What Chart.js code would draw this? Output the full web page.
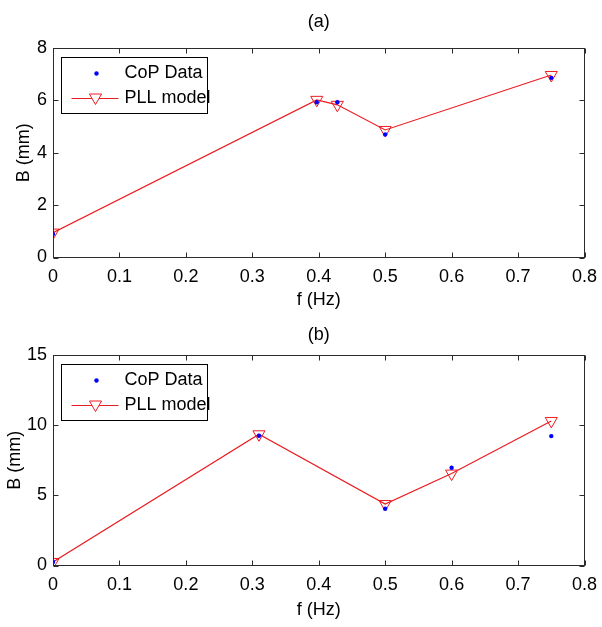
<!DOCTYPE html>
<html><head><meta charset="utf-8">
<script src="https://cdn.jsdelivr.net/npm/chart.js@4.4.1/dist/chart.umd.min.js"></script>
<style>
html,body{margin:0;padding:0;background:#fff;}
canvas{position:absolute;left:0;}
</style>
</head><body>
<canvas id="chartA" width="602" height="312" style="top:0px"></canvas>
<canvas id="chartB" width="602" height="315" style="top:312px"></canvas>
<script>
// ---- data ----
const xTickLabels = ['0','0.1','0.2','0.3','0.4','0.5','0.6','0.7','0.8'];

const freqA = [0, 0.397, 0.428, 0.5, 0.75];
const copA  = [0.90, 5.93, 5.93, 4.70, 6.86];
const pllA  = [0.95, 6.02, 5.83, 4.87, 6.97];
const yTicksA = ['0','2','4','6','8'];

const freqB = [0, 0.31, 0.5, 0.6, 0.75];
const copB  = [0.25, 9.25, 4.05, 6.97, 9.22];
const pllB  = [0.25, 9.35, 4.38, 6.55, 10.30];
const yTicksB = ['0','5','10','15'];

const seriesNames = ['CoP Data', 'PLL model'];
const panelTitles = ['(a)', '(b)'];
const xTitle = 'f (Hz)';
const yTitle = 'B (mm)';

// ---- styling ----
const FAMILY = "'Liberation Sans', Arial, Helvetica, sans-serif";
const FS = 18;
const RED = 'rgb(235,28,32)';
const BLUE = '#0000ff';
const AXIS = '#2b2b2b';

const frameTicks = {
  id: 'frameTicks',
  afterDraw(chart) {
    const {ctx, chartArea: a, scales: {x, y}} = chart;
    ctx.save();
    ctx.strokeStyle = AXIS;
    ctx.lineWidth = 1;
    const L = Math.round(a.left) + 0.5, R = Math.round(a.right) - 0.5;
    const T = Math.round(a.top) + 0.5, B = Math.round(a.bottom) - 0.5;
    ctx.strokeRect(L, T, R - L, B - T);
    const len = 5;
    ctx.beginPath();
    x.ticks.forEach(t => {
      const px = Math.round(x.getPixelForValue(t.value)) + 0.5;
      ctx.moveTo(px, B); ctx.lineTo(px, B - len);
      ctx.moveTo(px, T); ctx.lineTo(px, T + len);
    });
    y.ticks.forEach(t => {
      const py = Math.round(y.getPixelForValue(t.value)) + 0.5;
      ctx.moveTo(L, py); ctx.lineTo(L + len, py);
      ctx.moveTo(R, py); ctx.lineTo(R - len, py);
    });
    ctx.stroke();
    ctx.restore();
  }
};

const panelTitle = {
  id: 'panelTitle',
  afterDraw(chart, args, opts) {
    const {ctx, chartArea: a} = chart;
    ctx.save();
    ctx.fillStyle = '#000';
    ctx.font = '18px ' + FAMILY;
    ctx.textAlign = 'center';
    ctx.textBaseline = 'middle';
    ctx.fillText(opts.text, (a.left + a.right) / 2, opts.y);
    ctx.restore();
  }
};

const boxLegend = {
  id: 'boxLegend',
  afterDraw(chart) {
    const {ctx, chartArea: a} = chart;
    const L = Math.round(a.left) + 8.5, T = Math.round(a.top) + 9.5, W = 146, H = 56;
    ctx.save();
    ctx.fillStyle = '#fff';
    ctx.fillRect(L, T, W, H);
    ctx.strokeStyle = '#000';
    ctx.lineWidth = 1;
    ctx.strokeRect(L, T, W, H);
    const r1 = T + 16, r2 = T + 41;
    ctx.fillStyle = BLUE;
    ctx.beginPath(); ctx.arc(L + 35, r1, 2.2, 0, Math.PI * 2); ctx.fill();
    ctx.strokeStyle = RED; ctx.lineWidth = 1.2;
    ctx.beginPath(); ctx.moveTo(L + 10, r2); ctx.lineTo(L + 57, r2); ctx.stroke();
    ctx.lineWidth = 1;
    ctx.fillStyle = '#fff';
    Chart.helpers.drawPoint(ctx, {pointStyle: 'triangle', rotation: 180, radius: 7, borderWidth: 1}, L + 34, r2 - 1);
    ctx.fillStyle = '#000';
    ctx.font = FS + 'px ' + FAMILY;
    ctx.textBaseline = 'middle';
    ctx.textAlign = 'left';
    ctx.fillText(seriesNames[0], L + 63, r1);
    ctx.fillText(seriesNames[1], L + 63, r2);
    ctx.restore();
  }
};

function makeChart(id, title, freq, cop, pll, yMax, yStep, yTickLabels, cfg) {
  const canvas = document.getElementById(id);
  const H = canvas.height;
  return new Chart(canvas, {
    type: 'scatter',
    data: {
      datasets: [
        {
          label: seriesNames[0],
          data: freq.map((f, i) => ({x: f, y: cop[i]})),
          showLine: false,
          pointStyle: 'circle',
          pointRadius: 2.2,
          pointBackgroundColor: BLUE,
          pointBorderColor: BLUE,
          pointBorderWidth: 0,
          order: 1
        },
        {
          label: seriesNames[1],
          data: freq.map((f, i) => ({x: f, y: pll[i]})),
          showLine: true,
          borderColor: RED,
          borderWidth: 1.2,
          pointStyle: 'triangle',
          rotation: 180,
          pointRadius: 7,
          pointBackgroundColor: 'rgba(0,0,0,0)',
          pointBorderColor: RED,
          pointBorderWidth: 1,
          order: 2
        }
      ]
    },
    options: {
      responsive: false,
      animation: false,
      devicePixelRatio: 1,
      events: [],
      layout: {padding: {top: cfg.areaTop, right: 17.5, left: 0, bottom: 0}},
      plugins: {
        legend: {display: false},
        tooltip: {enabled: false},
        title: {display: false},
        panelTitle: {text: title, y: cfg.titleY}
      },
      scales: {
        x: {
          type: 'linear', min: 0, max: 0.8,
          grid: {display: false, drawTicks: false},
          border: {display: false},
          ticks: {
            stepSize: 0.1, color: '#000', padding: 9,
            font: {family: FAMILY, size: FS},
            callback: (v, i) => xTickLabels[i]
          },
          title: {
            display: true, text: xTitle, color: '#000',
            font: {family: FAMILY, size: 18},
            padding: {top: 0, bottom: cfg.xTitlePad}
          },
          afterFit(s) { s.height = H - cfg.areaBottom; s.paddingLeft = 0; s.paddingRight = 0; }
        },
        y: {
          type: 'linear', min: 0, max: yMax,
          grid: {display: false, drawTicks: false},
          border: {display: false},
          ticks: {
            stepSize: yStep, color: '#000', padding: 6,
            font: {family: FAMILY, size: FS},
            callback: (v, i) => yTickLabels[i]
          },
          title: {
            display: true, text: yTitle, color: '#000',
            font: {family: FAMILY, size: 18},
            padding: {top: cfg.yTitlePad, bottom: 0}
          },
          afterFit(s) { s.width = 53; s.paddingTop = 0; s.paddingBottom = 0; }
        }
      }
    },
    plugins: [frameTicks, boxLegend, panelTitle]
  });
}

makeChart('chartA', panelTitles[0], freqA, copA, pllA, 8, 2, yTicksA,
  {areaTop: 48, titleY: 22, areaBottom: 257.5, xTitlePad: 1.2, yTitlePad: 13});
makeChart('chartB', panelTitles[1], freqB, copB, pllB, 15, 5, yTicksB,
  {areaTop: 43, titleY: 23, areaBottom: 253.5, xTitlePad: 6.2, yTitlePad: 4});
</script>
</body></html>
